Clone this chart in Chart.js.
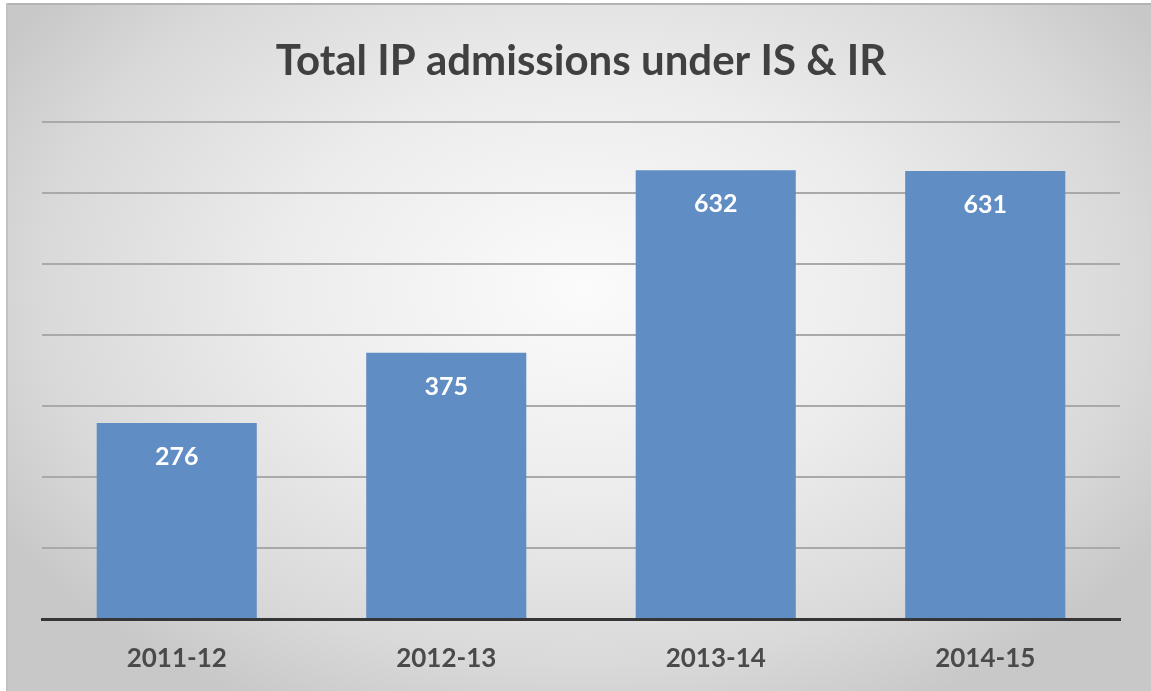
<!DOCTYPE html>
<html>
<head>
<meta charset="utf-8">
<script src="https://cdn.jsdelivr.net/npm/chart.js@4/dist/chart.umd.min.js"></script>
<style>
  html, body { margin: 0; padding: 0; background: #ffffff; }
  #wrap { width: 1151px; height: 691px; position: relative; }
</style>
</head>
<body>
<div id="wrap"><canvas id="c" width="1151" height="691"></canvas></div>
<script>
const titleText = "Total IP admissions under IS & IR";
const categories = ["2011-12", "2012-13", "2013-14", "2014-15"];
const admissions = [276, 375, 632, 631];
const yMin = 0;
const yMax = 700;
const yStep = 100;

const bgPlugin = {
  id: 'bg',
  beforeDraw(chart) {
    const ctx = chart.ctx;
    const w = chart.width, h = chart.height;
    ctx.save();
    ctx.fillStyle = '#ffffff';
    ctx.fillRect(0, 0, w, h);
    ctx.save();
    ctx.translate(585, 290);
    ctx.scale(1.45, 1);
    const g = ctx.createRadialGradient(0, 0, 0, 0, 0, 470);
    g.addColorStop(0, '#fbfbfb');
    g.addColorStop(0.45, '#ececec');
    g.addColorStop(0.8, '#d9d9d9');
    g.addColorStop(1, '#c8c8c8');
    ctx.fillStyle = g;
    ctx.fillRect((6 - 585) / 1.45, 3 - 290, (w - 6) / 1.45, h - 3);
    ctx.restore();
    ctx.fillStyle = '#b4b4b4';
    ctx.fillRect(6, 3, w - 6, 2);
    ctx.fillStyle = '#c2c2c2';
    ctx.fillRect(6, 3, 2, h - 3);
    ctx.restore();
  }
};

const labelPlugin = {
  id: 'barLabels',
  afterDatasetsDraw(chart) {
    const ctx = chart.ctx;
    const meta = chart.getDatasetMeta(0);
    ctx.save();
    ctx.fillStyle = '#ffffff';
    ctx.font = 'bold 25px Lato';
    ctx.textAlign = 'center';
    ctx.textBaseline = 'middle';
    meta.data.forEach((el, i) => {
      ctx.fillText(String(chart.data.datasets[0].data[i]), el.x, el.y + 34);
    });
    ctx.restore();
  }
};

new Chart(document.getElementById('c'), {
  type: 'bar',
  data: {
    labels: categories,
    datasets: [{
      data: admissions,
      backgroundColor: '#5f8dc4',
      borderWidth: 0,
      categoryPercentage: 1.0,
      barPercentage: 0.594
    }]
  },
  options: {
    responsive: false,
    animation: false,
    devicePixelRatio: 1,
    layout: { padding: { left: 42, right: 31, top: 0, bottom: 19 } },
    plugins: {
      legend: { display: false },
      tooltip: { enabled: false },
      title: {
        display: true,
        text: titleText,
        color: '#404040',
        font: { family: 'Lato', weight: 'bold', size: 42, lineHeight: 1.2 },
        padding: { top: 36, bottom: 35.6 }
      }
    },
    scales: {
      x: {
        grid: { display: false, drawTicks: false },
        border: { display: true, color: '#353535', width: 3 },
        ticks: {
          color: '#4a4a4a',
          padding: 24,
          font: { family: 'Lato', weight: 'bold', size: 26, lineHeight: 1.2 }
        },
        afterFit(scale) { scale.height = 53; }
      },
      y: {
        min: yMin,
        max: yMax,
        ticks: { display: false, stepSize: yStep },
        border: { display: false },
        grid: {
          drawTicks: false,
          color: (c) => c.tick && c.tick.value === 0 ? 'rgba(0,0,0,0)' : '#a9a9a9',
          lineWidth: 2
        }
      }
    }
  },
  plugins: [bgPlugin, labelPlugin]
});
</script>
</body>
</html>
